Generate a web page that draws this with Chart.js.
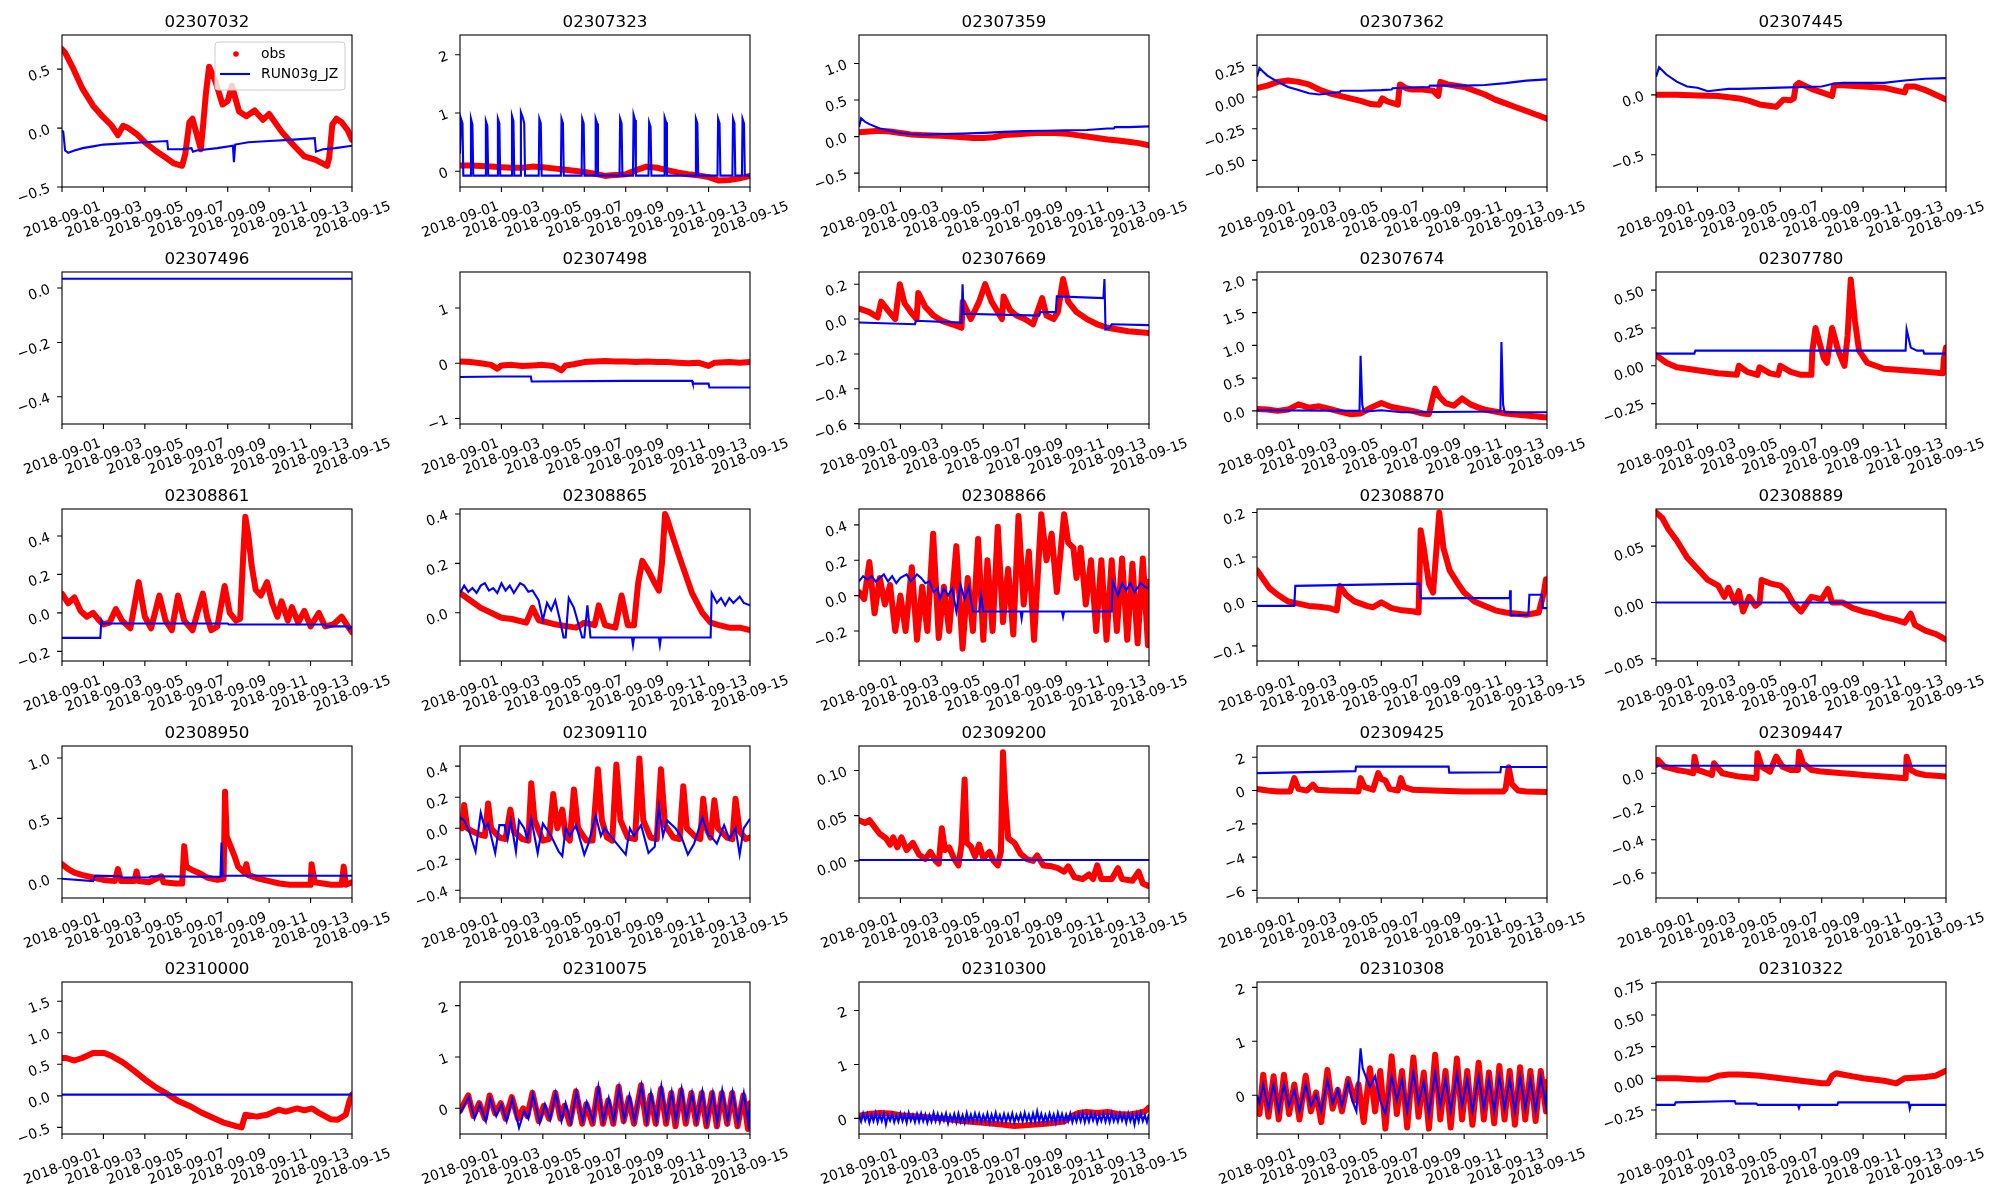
<!DOCTYPE html>
<html><head><meta charset="utf-8">
<script src="https://cdn.jsdelivr.net/npm/chart.js@4.4.1/dist/chart.umd.min.js"></script>
<style>
html,body{margin:0;padding:0;background:#fff;}
#wrap{position:relative;width:2000px;height:1200px;overflow:hidden;background:#fff;}
canvas{position:absolute;}
</style></head><body><div id="wrap"></div>
<script>
// ---------------- DATA ----------------
const STATIONS = ['02307032','02307323','02307359','02307362','02307445','02307496','02307498','02307669','02307674','02307780','02308861','02308865','02308866','02308870','02308889','02308950','02309110','02309200','02309425','02309447','02310000','02310075','02310300','02310308','02310322'];
const START_DATE = [2018, 8, 1]; // 2018-09-01
const X_TICK_DAYS = [0,2,4,6,8,10,12,14];
const Y_LIMITS = [
 [-0.5,0.79],[-0.27,2.34],[-0.69,1.39],[-0.71,0.49],[-0.77,0.50],
 [-0.50,0.059],[-1.10,1.65],[-0.602,0.27],[-0.20,2.12],[-0.385,0.62],
 [-0.25,0.54],[-0.195,0.42],[-0.37,0.49],[-0.134,0.208],[-0.052,0.083],
 [-0.16,1.10],[-0.45,0.53],[-0.041,0.127],[-6.46,2.68],[-0.75,0.164],
 [-0.605,1.805],[-0.5,2.46],[-0.29,2.53],[-0.72,2.1],[-0.44,0.76]];
const Y_TICKS = [
 [-0.5,0,0.5],[0,1,2],[-0.5,0,0.5,1.0],[-0.5,-0.25,0,0.25],[-0.5,0],
 [-0.4,-0.2,0],[-1,0,1],[-0.6,-0.4,-0.2,0,0.2],[0,0.5,1,1.5,2],[-0.25,0,0.25,0.5],
 [-0.2,0,0.2,0.4],[0,0.2,0.4],[-0.2,0,0.2,0.4],[-0.1,0,0.1,0.2],[-0.05,0,0.05],
 [0,0.5,1.0],[-0.4,-0.2,0,0.2,0.4],[0,0.05,0.1],[-6,-4,-2,0,2],[-0.6,-0.4,-0.2,0],
 [-0.5,0,0.5,1.0,1.5],[0,1,2],[0,1,2],[0,1,2],[-0.25,0,0.25,0.5,0.75]];

// series: [day since 2018-09-01, value]
const OBS_02307032 = [[0,0.67],[0.15,0.64],[0.5,0.52],[1.0,0.33],[1.5,0.19],[2.0,0.09],[2.4,0.02],[2.7,-0.06],[2.95,0.02],[3.2,0.0],[3.6,-0.05],[4.0,-0.12],[4.5,-0.19],[5.0,-0.25],[5.4,-0.3],[5.8,-0.32],[5.95,-0.22],[6.15,0.05],[6.3,0.08],[6.5,-0.05],[6.7,-0.18],[6.8,0.0],[6.95,0.3],[7.1,0.52],[7.4,0.4],[7.75,0.2],[8.0,0.23],[8.2,0.36],[8.55,0.14],[8.9,0.1],[9.3,0.15],[9.7,0.07],[10.0,0.12],[10.6,-0.03],[11.2,-0.15],[11.7,-0.24],[12.25,-0.27],[12.8,-0.32],[12.9,-0.25],[13.05,0.03],[13.25,0.08],[13.5,0.05],[13.8,-0.02],[14,-0.1]];
const MOD_02307032 = [[0,-0.02],[0.06,-0.03],[0.15,-0.19],[0.3,-0.21],[0.6,-0.19],[1.0,-0.17],[1.5,-0.155],[2.0,-0.14],[3.0,-0.13],[4.0,-0.12],[5.08,-0.11],[5.12,-0.18],[5.8,-0.18],[6.25,-0.17],[6.32,-0.2],[6.5,-0.19],[7.5,-0.17],[8.25,-0.15],[8.3,-0.29],[8.36,-0.14],[9.0,-0.12],[10.0,-0.11],[11.0,-0.1],[12.2,-0.085],[12.26,-0.2],[12.6,-0.18],[13.2,-0.17],[14,-0.15]];

const OBS_02307323 = [[0,0.1],[0.5,0.1],[1,0.09],[1.5,0.08],[2,0.07],[2.5,0.06],[3,0.06],[3.5,0.08],[4,0.07],[4.5,0.05],[5,0.03],[5.5,0.01],[6,-0.01],[6.5,-0.04],[7,-0.08],[7.3,-0.07],[7.7,-0.06],[8,-0.05],[8.5,0.02],[9,0.08],[9.5,0.06],[10,0.02],[10.5,-0.02],[11,-0.05],[11.5,-0.07],[12,-0.1],[12.5,-0.16],[13,-0.15],[13.5,-0.12],[14,-0.08]];
const MOD_02307323 = [[0,0.3],[0.05,0.9],[0.12,0.82],[0.16,-0.075],[0.5,-0.075],[0.53,0.9],[0.6,0.8],[0.64,-0.075],[1.22,-0.075],[1.25,0.86],[1.32,0.78],[1.36,-0.075],[1.8,-0.075],[1.83,0.9],[1.9,0.82],[1.94,-0.075],[2.48,-0.075],[2.51,0.95],[2.58,0.86],[2.62,-0.075],[2.91,-0.075],[2.94,1.01],[3.0,0.95],[3.05,0.9],[3.1,0.82],[3.14,-0.075],[3.8,-0.075],[3.83,0.9],[3.9,0.82],[3.94,-0.075],[4.87,-0.075],[4.9,0.9],[4.97,0.82],[5.01,-0.075],[5.87,-0.075],[5.9,0.9],[5.97,0.82],[6.01,-0.075],[6.52,-0.075],[6.55,0.9],[6.62,0.82],[6.66,-0.075],[7.7,-0.075],[7.73,0.9],[7.8,0.82],[7.84,-0.075],[8.35,-0.075],[8.38,0.97],[8.45,0.88],[8.49,-0.075],[9.1,-0.075],[9.13,0.84],[9.2,0.76],[9.24,-0.075],[9.85,-0.075],[9.88,0.92],[9.95,0.84],[9.99,-0.075],[11.36,-0.075],[11.39,0.9],[11.46,0.82],[11.5,-0.075],[12.43,-0.075],[12.46,0.9],[12.53,0.82],[12.57,-0.075],[13.15,-0.075],[13.18,0.9],[13.25,0.82],[13.29,-0.075],[13.61,-0.075],[13.64,0.9],[13.71,0.82],[13.75,-0.075],[14,-0.075]];

const OBS_02307359 = [[0,0.06],[0.5,0.07],[1,0.08],[1.5,0.07],[2,0.05],[2.5,0.03],[3,0.02],[3.5,0.015],[4,0.01],[4.5,0.0],[5,-0.01],[5.5,-0.02],[6,-0.02],[6.5,-0.01],[7,0.02],[7.5,0.03],[8,0.04],[8.5,0.05],[9,0.05],[9.5,0.05],[10,0.04],[10.5,0.02],[11,0.0],[11.5,-0.02],[12,-0.04],[12.5,-0.055],[13,-0.07],[13.5,-0.09],[14,-0.12]];
const MOD_02307359 = [[0,0.13],[0.1,0.25],[0.3,0.2],[0.5,0.17],[1,0.11],[1.5,0.08],[2,0.05],[2.5,0.035],[3,0.025],[3.5,0.03],[4,0.035],[5,0.04],[6,0.05],[7,0.065],[8,0.075],[9,0.08],[10,0.085],[11,0.09],[12,0.11],[12.3,0.11],[12.35,0.13],[13,0.13],[14,0.14]];

const OBS_02307362 = [[0,0.07],[0.5,0.09],[1,0.12],[1.5,0.13],[2,0.12],[2.5,0.1],[3,0.06],[3.5,0.03],[4,0.01],[4.5,-0.01],[5,-0.03],[5.5,-0.055],[5.9,-0.06],[6.05,-0.01],[6.3,-0.035],[6.6,-0.05],[6.8,-0.06],[6.85,0.03],[6.9,0.1],[7.2,0.07],[7.5,0.06],[8,0.06],[8.5,0.05],[8.75,0.01],[8.85,0.12],[9.2,0.1],[9.6,0.09],[10,0.08],[10.5,0.05],[11,0.02],[11.5,-0.02],[12,-0.05],[12.5,-0.08],[13,-0.11],[13.5,-0.14],[14,-0.17]];
const MOD_02307362 = [[0,0.16],[0.12,0.23],[0.3,0.2],[0.5,0.17],[1,0.12],[1.5,0.08],[2,0.055],[2.5,0.03],[3,0.02],[3.5,0.03],[4,0.04],[4.05,0.05],[5,0.05],[6,0.055],[6.5,0.06],[6.55,0.07],[7.5,0.075],[8.3,0.08],[8.35,0.09],[9,0.09],[10,0.09],[11,0.095],[12,0.11],[13,0.13],[14,0.14]];

const OBS_02307445 = [[0,0.0],[1,0.0],[2,-0.005],[3,-0.01],[4,-0.03],[4.5,-0.05],[5,-0.08],[5.8,-0.1],[6.15,-0.04],[6.5,-0.045],[6.65,-0.03],[6.75,0.08],[6.9,0.1],[7.5,0.05],[8,0.02],[8.5,-0.01],[8.6,0.08],[9,0.08],[10,0.07],[11,0.06],[11.5,0.04],[12,0.02],[12.1,0.07],[12.5,0.07],[13,0.04],[13.5,0.0],[14,-0.04]];
const MOD_02307445 = [[0,0.15],[0.15,0.23],[0.5,0.17],[1,0.11],[1.5,0.07],[2,0.06],[2.5,0.03],[3,0.04],[3.5,0.05],[4,0.05],[6,0.06],[8,0.07],[8.5,0.09],[9,0.1],[11,0.1],[12,0.12],[13,0.135],[14,0.14]];

const OBS_02307496 = [];
const MOD_02307496 = [[0,0.034],[14,0.034]];

const OBS_02307498 = [[0,0.03],[0.5,0.02],[1,0.0],[1.5,-0.03],[1.8,-0.1],[2.0,-0.04],[2.5,-0.03],[3,-0.05],[3.5,-0.04],[4,-0.03],[4.5,-0.05],[4.9,-0.13],[5.1,-0.04],[5.5,-0.02],[6,0.02],[6.5,0.03],[7,0.04],[7.5,0.03],[8,0.03],[8.5,0.02],[9,0.03],[9.5,0.02],[10,0.02],[10.5,0.01],[11,0.0],[11.5,0.01],[12,-0.05],[12.3,0.01],[13,0.02],[13.5,0.01],[14,0.02]];
const MOD_02307498 = [[0,-0.25],[2,-0.24],[3.42,-0.24],[3.46,-0.33],[8,-0.32],[11.2,-0.32],[11.24,-0.37],[12,-0.37],[12.04,-0.44],[14,-0.44]];

const OBS_02307669 = [[0,0.06],[0.5,0.04],[0.9,0.01],[1.07,0.1],[1.4,0.05],[1.75,0.0],[1.97,0.2],[2.2,0.09],[2.5,0.04],[2.78,0.0],[2.86,0.15],[3.2,0.07],[3.6,0.02],[4.0,-0.01],[4.5,-0.03],[4.95,-0.05],[5.01,0.1],[5.2,0.05],[5.4,0.0],[5.8,0.1],[6.09,0.2],[6.4,0.1],[6.7,0.04],[6.9,0.0],[6.98,0.13],[7.3,0.05],[7.6,0.02],[8.0,0.0],[8.4,-0.03],[8.84,0.12],[9.05,0.02],[9.4,0.0],[9.6,0.04],[9.85,0.23],[10.1,0.1],[10.5,0.04],[11,0.0],[11.5,-0.03],[12,-0.05],[12.5,-0.06],[13,-0.07],[14,-0.08]];
const MOD_02307669 = [[0,-0.02],[2.7,-0.03],[2.75,-0.01],[4.95,-0.02],[5.0,0.2],[5.05,0.03],[8.7,0.02],[8.75,0.04],[9.5,0.04],[9.55,0.13],[11.8,0.12],[11.85,0.23],[11.9,-0.06],[12.1,-0.05],[12.2,-0.03],[14,-0.035]];

const OBS_02307674 = [[0,0.03],[0.5,0.02],[1,0.0],[1.5,0.02],[2,0.1],[2.5,0.05],[3,0.07],[3.5,0.03],[4,-0.01],[4.5,-0.05],[5,-0.04],[5.5,0.05],[6,0.12],[6.5,0.06],[7,0.03],[7.5,0.0],[8,-0.04],[8.3,-0.05],[8.45,0.15],[8.6,0.34],[8.8,0.22],[9.1,0.12],[9.5,0.08],[9.9,0.19],[10.3,0.1],[10.7,0.05],[11,0.02],[12,-0.04],[13,-0.07],[14,-0.1]];
const MOD_02307674 = [[0,0.01],[4.95,0.0],[5.0,0.84],[5.08,0.1],[5.15,-0.01],[6,0.01],[7,-0.02],[11.75,-0.01],[11.8,1.05],[11.88,0.1],[11.95,-0.02],[14,-0.02]];

const OBS_02307780 = [[0,0.07],[0.5,0.02],[1,-0.01],[2,-0.03],[3,-0.05],[3.9,-0.06],[4.0,0.0],[4.4,-0.04],[4.9,-0.06],[5.0,-0.01],[5.5,-0.05],[5.9,-0.06],[6.0,0.0],[6.5,-0.04],[7.0,-0.06],[7.5,-0.06],[7.55,0.1],[7.7,0.25],[7.9,0.15],[8.1,0.05],[8.25,0.02],[8.5,0.25],[8.8,0.1],[9.0,0.03],[9.1,0.0],[9.25,0.2],[9.4,0.57],[9.6,0.3],[9.8,0.1],[10.2,0.02],[11,-0.02],[12,-0.03],[13,-0.04],[13.85,-0.05],[13.9,0.05],[14,0.12]];
const MOD_02307780 = [[0,0.08],[1.85,0.08],[1.9,0.1],[12.05,0.1],[12.1,0.24],[12.3,0.12],[12.6,0.1],[12.9,0.1],[12.95,0.08],[14,0.08]];

const OBS_02308861 = [[0,0.10],[0.3,0.05],[0.6,0.08],[0.9,0.01],[1.2,-0.02],[1.5,0.0],[1.8,-0.04],[2.0,-0.06],[2.3,-0.05],[2.6,0.02],[2.9,-0.04],[3.3,-0.08],[3.7,0.16],[4.0,-0.02],[4.3,-0.08],[4.7,0.09],[5.0,-0.04],[5.3,-0.09],[5.6,0.09],[5.9,-0.04],[6.3,-0.09],[6.8,0.10],[7.0,-0.02],[7.2,-0.09],[7.5,-0.07],[7.85,0.14],[8.1,0.0],[8.4,-0.04],[8.6,-0.03],[8.75,0.3],[8.85,0.5],[9.0,0.4],[9.15,0.25],[9.35,0.12],[9.6,0.09],[9.9,0.16],[10.15,0.05],[10.4,-0.02],[10.6,0.06],[10.9,-0.04],[11.1,0.03],[11.4,-0.05],[11.7,0.01],[12.0,-0.07],[12.4,0.0],[12.7,-0.07],[13.1,-0.06],[13.5,-0.02],[13.8,-0.07],[14,-0.1]];
const MOD_02308861 = [[0,-0.13],[1.85,-0.13],[1.9,-0.04],[1.95,-0.055],[8.0,-0.055],[8.05,-0.06],[12.7,-0.06],[12.75,-0.07],[13.8,-0.07],[13.85,-0.085],[14,-0.07]];

const OBS_02308865 = [[0,0.08],[0.5,0.05],[1,0.02],[1.5,0.0],[2,-0.02],[2.5,-0.025],[3.2,-0.04],[3.5,0.02],[3.8,-0.03],[4.5,-0.045],[5.2,-0.055],[5.6,-0.06],[6.0,-0.04],[6.5,-0.05],[6.7,0.03],[7.0,-0.05],[7.5,-0.06],[7.8,0.07],[8.1,-0.05],[8.4,-0.05],[8.6,0.12],[8.8,0.21],[9.1,0.17],[9.4,0.12],[9.6,0.09],[9.75,0.2],[9.9,0.4],[10.0,0.38],[10.3,0.3],[10.7,0.2],[11.2,0.08],[11.7,0.0],[12.1,-0.04],[12.5,-0.05],[13,-0.06],[13.5,-0.06],[14,-0.07]];
const MOD_02308865 = [[0,0.08],[0.2,0.11],[0.4,0.085],[0.6,0.1],[0.8,0.08],[1.0,0.11],[1.2,0.12],[1.4,0.09],[1.6,0.1],[1.8,0.08],[2.0,0.12],[2.2,0.09],[2.4,0.11],[2.6,0.08],[2.9,0.12],[3.1,0.11],[3.3,0.085],[3.5,0.09],[3.8,0.05],[4.0,-0.03],[4.2,0.04],[4.4,0.01],[4.6,0.05],[4.8,-0.02],[5.0,-0.1],[5.1,-0.1],[5.25,0.06],[5.5,0.02],[5.7,-0.04],[5.9,-0.1],[6.0,-0.1],[6.15,0.03],[6.3,-0.1],[8.3,-0.1],[8.35,-0.13],[8.4,-0.1],[9.6,-0.1],[9.65,-0.13],[9.7,-0.1],[12.1,-0.1],[12.15,0.08],[12.4,0.04],[12.6,0.06],[12.8,0.03],[13.0,0.06],[13.2,0.04],[13.5,0.065],[13.7,0.04],[14,0.03]];

const OBS_02308866 = [[0,0.02],[0.25,-0.02],[0.5,0.19],[0.75,-0.1],[1.0,0.1],[1.25,-0.05],[1.5,0.06],[1.75,-0.2],[2.0,0.0],[2.25,-0.2],[2.55,0.16],[2.8,-0.25],[3.05,0.05],[3.3,-0.2],[3.58,0.35],[3.85,-0.24],[4.1,0.05],[4.35,-0.2],[4.7,0.28],[5.0,-0.3],[5.25,0.1],[5.5,-0.2],[5.75,0.32],[6.0,-0.25],[6.2,0.2],[6.45,-0.2],[6.7,0.39],[6.95,-0.15],[7.2,0.15],[7.45,-0.22],[7.7,0.45],[7.95,-0.05],[8.2,0.25],[8.45,-0.25],[8.8,0.46],[9.05,0.2],[9.3,0.35],[9.55,0.02],[9.9,0.46],[10.1,0.3],[10.35,0.27],[10.5,0.1],[10.7,0.27],[10.95,-0.05],[11.2,0.2],[11.45,-0.2],[11.7,0.2],[11.95,-0.25],[12.2,0.2],[12.45,-0.2],[12.7,0.21],[12.95,-0.25],[13.2,0.18],[13.45,-0.27],[13.7,0.21],[13.95,-0.28],[14,0.08]];
const MOD_02308866 = [[0,0.08],[0.2,0.11],[0.4,0.09],[0.6,0.11],[0.8,0.08],[1.0,0.1],[1.2,0.12],[1.4,0.08],[1.6,0.11],[1.8,0.07],[2.0,0.1],[2.3,0.12],[2.5,0.08],[2.8,0.12],[3.0,0.1],[3.2,0.07],[3.4,0.08],[3.6,0.02],[3.8,0.04],[3.9,-0.02],[4.1,0.04],[4.3,0.0],[4.5,0.04],[4.7,-0.09],[4.9,0.06],[5.1,-0.02],[5.3,0.05],[5.5,-0.09],[5.8,-0.09],[5.9,0.0],[6.0,-0.09],[7.8,-0.09],[7.85,-0.13],[7.9,-0.09],[9.8,-0.09],[9.85,-0.12],[9.9,-0.09],[12.2,-0.09],[12.25,0.08],[12.5,0.0],[12.7,0.07],[12.9,0.03],[13.1,0.07],[13.3,0.02],[13.6,0.07],[13.8,0.05],[14,0.04]];

const OBS_02308870 = [[0,0.07],[0.3,0.05],[0.6,0.03],[1,0.015],[1.5,0.0],[2,-0.005],[2.5,-0.01],[3,-0.012],[3.5,-0.015],[3.85,-0.02],[4.0,0.035],[4.3,0.015],[4.7,0.0],[5,-0.005],[5.3,-0.01],[5.6,-0.013],[6.0,-0.002],[6.5,-0.015],[7,-0.02],[7.5,-0.022],[7.8,-0.025],[7.9,0.16],[8.05,0.12],[8.3,0.04],[8.5,0.02],[8.6,0.08],[8.8,0.2],[9.0,0.12],[9.3,0.07],[9.7,0.04],[10,0.02],[10.5,0.0],[11,-0.01],[11.5,-0.02],[12,-0.025],[13,-0.03],[13.6,-0.025],[13.85,0.02],[13.95,0.05],[14,0.03]];
const MOD_02308870 = [[0,-0.01],[1.8,-0.01],[1.85,0.035],[7.85,0.04],[7.9,0.007],[12.2,0.008],[12.22,0.025],[12.25,-0.032],[13.1,-0.03],[13.15,0.015],[13.75,0.015],[13.8,-0.015],[14,-0.015]];

const OBS_02308889 = [[0,0.08],[0.3,0.075],[0.6,0.065],[1,0.055],[1.5,0.04],[2,0.03],[2.5,0.02],[3,0.015],[3.3,0.005],[3.5,0.013],[3.8,0.0],[4.0,0.01],[4.2,-0.008],[4.5,0.005],[4.8,-0.003],[5.0,0.0],[5.1,0.02],[5.5,0.017],[6,0.015],[6.3,0.01],[6.6,0.0],[7,-0.008],[7.3,0.0],[7.5,0.005],[8,0.003],[8.3,0.012],[8.5,0.0],[9,0.0],[9.5,-0.005],[10,-0.008],[10.5,-0.01],[11,-0.013],[11.5,-0.015],[12,-0.018],[12.3,-0.01],[12.5,-0.02],[13,-0.025],[13.5,-0.028],[14,-0.033]];
const MOD_02308889 = [[0,0.0],[14,0.0]];

const OBS_02308950 = [[0,0.12],[0.3,0.08],[0.6,0.05],[1,0.03],[1.5,0.01],[2,-0.01],[2.55,-0.02],[2.7,0.08],[2.85,-0.02],[3.5,-0.02],[3.6,0.06],[3.7,-0.02],[4.2,-0.03],[4.8,0.02],[4.9,-0.03],[5.5,-0.04],[5.8,-0.04],[5.9,0.27],[6.0,0.1],[6.3,0.07],[6.7,0.04],[7,0.01],[7.5,-0.01],[7.8,0.0],[7.87,0.72],[7.95,0.35],[8.3,0.2],[8.5,0.1],[8.8,0.05],[8.9,0.12],[9.0,0.03],[9.5,0.0],[10,-0.02],[10.5,-0.04],[11,-0.05],[12,-0.05],[12.05,0.12],[12.2,-0.03],[13,-0.05],[13.5,-0.05],[13.6,0.1],[13.7,-0.05],[14,-0.03]];
const MOD_02308950 = [[0,0.0],[1.5,-0.02],[1.6,0.025],[2.8,0.02],[2.9,0.01],[4.2,0.01],[4.3,0.02],[7.65,0.015],[7.7,0.3],[7.75,0.025],[14,0.025]];

const OBS_02309110 = [[0,0.02],[0.1,0.0],[0.2,0.15],[0.35,0.0],[0.6,-0.02],[0.9,-0.04],[1.2,-0.05],[1.36,0.16],[1.5,0.0],[1.9,-0.06],[2.2,-0.07],[2.43,0.12],[2.6,-0.02],[3.0,-0.07],[3.3,-0.08],[3.44,0.29],[3.6,0.05],[4.0,-0.08],[4.3,-0.07],[4.5,0.22],[4.7,0.0],[4.94,0.12],[5.1,-0.05],[5.3,-0.08],[5.5,0.25],[5.7,0.0],[6.1,-0.08],[6.4,-0.08],[6.66,0.38],[6.85,0.05],[7.1,-0.06],[7.35,-0.08],[7.55,0.41],[7.75,0.05],[8.1,-0.06],[8.45,-0.07],[8.66,0.45],[8.85,0.05],[9.2,-0.06],[9.5,-0.07],[9.7,0.38],[9.9,0.02],[10.3,-0.06],[10.6,-0.07],[10.78,0.27],[10.95,0.0],[11.4,-0.06],[11.6,-0.07],[11.74,0.19],[11.9,0.0],[12.1,-0.06],[12.28,0.18],[12.45,0.0],[12.9,-0.06],[13.15,-0.07],[13.3,0.19],[13.5,-0.02],[13.8,-0.07],[14,-0.06]];
const MOD_02309110 = [[0,0.07],[0.2,0.05],[0.47,-0.03],[0.75,-0.15],[1.0,0.1],[1.2,0.0],[1.35,0.03],[1.5,-0.05],[1.7,-0.16],[1.9,0.02],[2.15,0.02],[2.3,-0.07],[2.45,0.05],[2.7,-0.15],[2.85,0.05],[3.1,0.0],[3.25,-0.07],[3.44,0.06],[3.75,-0.16],[4.0,0.03],[4.15,0.0],[4.4,-0.05],[4.76,-0.15],[4.94,-0.18],[5.1,0.0],[5.3,-0.05],[5.6,0.02],[6.0,-0.17],[6.2,-0.1],[6.55,0.08],[6.8,-0.05],[6.98,0.0],[7.45,-0.08],[8.0,-0.17],[8.2,0.0],[8.4,-0.05],[8.74,0.02],[9.1,-0.16],[9.4,-0.12],[9.6,0.14],[9.8,-0.05],[10.0,0.05],[10.4,0.0],[10.7,-0.06],[11.0,-0.17],[11.3,-0.1],[11.7,0.07],[12.0,-0.05],[12.1,-0.05],[12.4,-0.1],[12.75,0.02],[13.0,-0.07],[13.3,0.0],[13.5,-0.17],[13.7,0.0],[14,0.06]];

const OBS_02309200 = [[0,0.045],[0.3,0.042],[0.5,0.045],[0.8,0.036],[1.0,0.03],[1.3,0.025],[1.5,0.018],[1.65,0.026],[1.85,0.015],[2.05,0.026],[2.3,0.012],[2.6,0.02],[2.9,0.007],[3.2,0.002],[3.45,0.01],[3.7,0.0],[3.85,-0.003],[4.0,0.036],[4.15,0.012],[4.35,0.015],[4.6,0.002],[4.8,-0.005],[4.95,0.018],[5.1,0.09],[5.2,0.02],[5.4,0.016],[5.6,0.005],[5.8,0.018],[6.0,0.003],[6.3,0.01],[6.5,0.0],[6.7,-0.005],[6.85,0.01],[6.95,0.12],[7.05,0.07],[7.2,0.025],[7.5,0.02],[7.8,0.008],[8.1,0.002],[8.4,0.0],[8.6,0.006],[8.9,-0.005],[9.3,-0.006],[9.6,-0.008],[9.9,-0.012],[10.1,-0.006],[10.4,-0.018],[10.8,-0.02],[11.1,-0.015],[11.3,-0.02],[11.5,-0.005],[11.7,-0.02],[12.2,-0.02],[12.5,-0.008],[12.7,-0.02],[13.2,-0.022],[13.5,-0.012],[13.7,-0.025],[14,-0.028]];
const MOD_02309200 = [[0,0.001],[14,0.001]];

const OBS_02309425 = [[0,0.1],[0.5,0.0],[1.0,-0.05],[1.6,-0.05],[1.8,0.75],[2.0,0.1],[2.4,0.0],[2.7,0.35],[2.9,0.05],[3.5,0.0],[4.5,-0.03],[4.9,-0.05],[5.0,0.75],[5.2,0.2],[5.6,0.05],[5.85,1.05],[6.0,0.7],[6.2,0.6],[6.4,0.1],[6.8,0.0],[6.95,0.75],[7.1,0.2],[7.5,0.05],[8.5,0.0],[10,-0.05],[11,-0.05],[11.9,-0.05],[12.0,0.1],[12.15,1.4],[12.3,0.4],[12.6,0.0],[13,-0.05],[14,-0.08]];
const MOD_02309425 = [[0,1.05],[4.75,1.17],[4.78,1.44],[9.25,1.44],[9.28,1.08],[11.75,1.1],[11.78,1.42],[14,1.42]];

const OBS_02309447 = [[0,0.05],[0.1,0.08],[0.4,0.04],[1,0.02],[1.5,0.01],[1.8,0.0],[1.86,0.1],[2.0,0.02],[2.5,0.0],[2.7,-0.01],[2.8,0.06],[3.2,0.0],[4,-0.02],[4.85,-0.03],[4.9,0.12],[5.1,0.04],[5.5,0.01],[5.8,0.1],[6.1,0.04],[6.5,0.02],[6.85,0.02],[6.91,0.13],[7.1,0.06],[7.5,0.02],[8,0.01],[9,0.0],[9.5,-0.005],[10,-0.01],[11,-0.02],[12.05,-0.03],[12.1,0.1],[12.3,0.02],[12.6,0.0],[13,-0.01],[14,-0.02]];
const MOD_02309447 = [[0,0.045],[14,0.045]];

const OBS_02310000 = [[0,0.6],[0.2,0.6],[0.6,0.56],[0.97,0.6],[1.5,0.68],[2.04,0.68],[2.4,0.63],[2.94,0.53],[3.47,0.4],[4.0,0.26],[4.55,0.13],[5.08,0.03],[5.6,-0.08],[6.16,-0.16],[6.7,-0.26],[7.23,-0.34],[7.77,-0.42],[8.4,-0.48],[8.67,-0.5],[8.85,-0.3],[9.4,-0.33],[9.9,-0.3],[10.45,-0.22],[10.8,-0.25],[11.35,-0.2],[11.7,-0.23],[12.07,-0.2],[12.4,-0.27],[12.96,-0.37],[13.3,-0.38],[13.7,-0.3],[13.86,-0.1],[14,0.02]];
const MOD_02310000 = [[0,0.02],[14,0.02]];

const OBS_02310075 = [[0,-0.05],[0.4,0.25],[0.65,-0.15],[0.93,0.1],[1.2,-0.2],[1.43,0.25],[1.7,-0.1],[1.97,0.1],[2.2,-0.2],[2.5,0.22],[2.8,-0.2],[3.05,0.0],[3.25,-0.15],[3.5,0.3],[3.8,-0.25],[4.05,0.05],[4.3,-0.2],[4.6,0.3],[4.85,-0.2],[5.05,0.05],[5.3,-0.3],[5.6,0.33],[5.9,-0.3],[6.1,0.08],[6.4,-0.3],[6.66,0.38],[6.9,-0.3],[7.15,0.15],[7.4,-0.3],[7.66,0.42],[7.9,-0.25],[8.15,0.2],[8.4,-0.3],[8.74,0.45],[9.0,-0.3],[9.2,0.25],[9.45,-0.3],[9.7,0.38],[9.95,-0.3],[10.2,0.3],[10.4,-0.35],[10.67,0.35],[10.9,-0.3],[11.17,0.3],[11.4,-0.3],[11.67,0.3],[11.9,-0.35],[12.17,0.3],[12.4,-0.35],[12.64,0.3],[12.9,-0.3],[13.14,0.3],[13.4,-0.35],[13.68,0.25],[13.9,-0.4],[14,0.1]];
const MOD_02310075 = [[0,-0.1],[0.42,0.22],[0.7,-0.2],[0.95,0.08],[1.25,-0.25],[1.45,0.2],[1.75,-0.15],[2.0,0.08],[2.25,-0.25],[2.52,0.18],[2.85,-0.38],[3.1,-0.05],[3.3,-0.2],[3.52,0.28],[3.85,-0.28],[4.1,0.08],[4.35,-0.22],[4.62,0.3],[4.9,-0.25],[5.1,0.1],[5.35,-0.28],[5.62,0.32],[5.92,-0.25],[6.12,0.12],[6.42,-0.25],[6.68,0.42],[6.92,-0.25],[7.18,0.2],[7.42,-0.25],[7.68,0.4],[7.92,-0.22],[8.18,0.25],[8.42,-0.25],[8.76,0.45],[9.02,-0.25],[9.22,0.3],[9.48,-0.25],[9.72,0.43],[9.97,-0.22],[10.22,0.32],[10.42,-0.25],[10.7,0.38],[10.92,-0.22],[11.2,0.3],[11.42,-0.25],[11.7,0.33],[11.92,-0.28],[12.2,0.3],[12.42,-0.28],[12.66,0.35],[12.92,-0.25],[13.16,0.32],[13.42,-0.28],[13.7,0.3],[13.92,-0.3],[14,0.12]];

const OBS_02310300 = [[0,0.05],[0.5,0.08],[1,0.1],[1.5,0.09],[2,0.06],[3,0.03],[4,0.0],[5,-0.05],[6,-0.08],[7,-0.12],[7.5,-0.14],[8,-0.13],[9,-0.1],[9.9,-0.06],[10.3,0.05],[10.6,0.1],[11,0.12],[11.5,0.1],[12,0.12],[12.5,0.08],[13,0.07],[13.5,0.1],[13.8,0.13],[14,0.2]];
// model at 0.1-day steps from 2018-09-01
const MOD_02310300_STEP = 0.1;
const MOD_02310300_V = [
 0.05,-0.06,0.09,-0.04,0.08,-0.08,0.06,-0.05,0.10,-0.07,
 0.07,-0.05,0.09,-0.11,0.06,-0.04,0.08,-0.07,0.05,-0.06,
 0.09,-0.05,0.07,-0.08,0.10,-0.04,0.06,-0.07,0.08,-0.06,
 0.09,-0.05,0.07,-0.08,0.06,-0.06,0.10,-0.05,0.08,-0.07,
 0.07,-0.04,0.09,-0.09,0.06,-0.05,0.08,-0.07,0.09,-0.06,
 0.06,-0.08,0.10,-0.05,0.07,-0.06,0.09,-0.04,0.08,-0.07,
 0.06,-0.05,0.09,-0.08,0.07,-0.06,0.10,-0.05,0.06,-0.07,
 0.08,-0.06,0.07,-0.05,0.09,-0.08,0.06,-0.04,0.08,-0.06,
 0.10,-0.05,0.07,-0.07,0.09,-0.06,0.13,-0.05,0.08,-0.07,
 0.06,-0.06,0.09,-0.05,0.07,-0.08,0.10,-0.04,0.08,-0.06,
 0.07,-0.05,0.09,-0.07,0.06,-0.06,0.08,-0.05,0.10,-0.07,
 0.07,-0.06,0.09,-0.04,0.08,-0.08,0.06,-0.05,0.09,-0.06,
 0.08,-0.07,0.10,-0.05,0.06,-0.06,0.09,-0.04,0.07,-0.08,
 0.09,-0.05,0.07,-0.11,0.08,-0.06,0.10,-0.05,0.06,-0.07,
 0.08];
const MOD_02310300 = MOD_02310300_V.map((v,i)=>[i*MOD_02310300_STEP, v]);

const OBS_02310308 = [[0,-0.1],[0.12,-0.35],[0.3,0.38],[0.55,-0.4],[0.8,0.35],[1.05,-0.45],[1.3,0.38],[1.55,-0.35],[1.8,0.2],[2.05,-0.45],[2.35,0.36],[2.6,-0.3],[2.85,0.05],[3.1,-0.5],[3.4,0.47],[3.65,-0.25],[3.9,0.1],[4.1,-0.3],[4.4,0.3],[4.7,-0.1],[4.9,0.2],[5.15,-0.5],[5.45,0.5],[5.7,-0.3],[5.95,0.45],[6.2,-0.62],[6.5,0.72],[6.75,-0.35],[7.0,0.45],[7.25,-0.6],[7.55,0.7],[7.8,-0.4],[8.05,0.42],[8.3,-0.62],[8.6,0.75],[8.85,-0.45],[9.1,0.45],[9.35,-0.6],[9.65,0.68],[9.9,-0.45],[10.15,0.45],[10.4,-0.55],[10.7,0.6],[10.95,-0.45],[11.2,0.42],[11.45,-0.52],[11.7,0.54],[11.95,-0.45],[12.2,0.45],[12.45,-0.55],[12.7,0.52],[12.95,-0.45],[13.2,0.45],[13.45,-0.48],[13.7,0.45],[13.95,-0.3],[14,0.25]];
const MOD_02310308 = [[0,0.0],[0.12,-0.15],[0.3,0.2],[0.55,-0.25],[0.8,0.2],[1.05,-0.3],[1.3,0.2],[1.55,-0.2],[1.8,0.1],[2.05,-0.3],[2.35,0.2],[2.6,-0.2],[2.85,0.0],[3.1,-0.3],[3.4,0.28],[3.65,-0.15],[3.9,0.1],[4.1,-0.2],[4.4,0.25],[4.6,-0.1],[4.8,-0.3],[5.0,0.87],[5.1,0.5],[5.3,0.3],[5.45,0.15],[5.7,0.35],[5.95,-0.1],[6.2,-0.35],[6.5,0.35],[6.75,-0.1],[7.0,0.3],[7.25,-0.3],[7.55,0.42],[7.8,-0.15],[8.05,0.25],[8.3,-0.35],[8.6,0.42],[8.85,-0.2],[9.1,0.3],[9.35,-0.3],[9.65,0.4],[9.9,-0.2],[10.15,0.3],[10.4,-0.3],[10.7,0.35],[10.95,-0.25],[11.2,0.3],[11.45,-0.3],[11.7,0.35],[11.95,-0.25],[12.2,0.3],[12.45,-0.3],[12.7,0.35],[12.95,-0.25],[13.2,0.3],[13.45,-0.3],[13.7,0.35],[13.95,-0.2],[14,0.15]];

const OBS_02310322 = [[0,0.0],[1,0.0],[2,-0.01],[2.5,-0.01],[3,0.02],[3.5,0.03],[4,0.03],[4.5,0.025],[5,0.02],[5.5,0.01],[6,0.0],[6.5,-0.01],[7,-0.02],[7.5,-0.03],[8,-0.04],[8.3,-0.04],[8.5,0.02],[8.7,0.04],[9,0.03],[9.5,0.015],[10,0.0],[10.5,-0.01],[11,-0.02],[11.6,-0.04],[12,0.0],[12.5,0.005],[13,0.01],[13.5,0.02],[14,0.06]];
const MOD_02310322 = [[0,-0.21],[0.9,-0.21],[0.95,-0.19],[3.8,-0.18],[3.85,-0.2],[4.85,-0.2],[4.9,-0.21],[6.85,-0.21],[6.9,-0.235],[6.95,-0.21],[8.75,-0.21],[8.8,-0.19],[12.2,-0.19],[12.25,-0.24],[12.3,-0.21],[14,-0.21]];

const OBS_SERIES = [OBS_02307032,OBS_02307323,OBS_02307359,OBS_02307362,OBS_02307445,OBS_02307496,OBS_02307498,OBS_02307669,OBS_02307674,OBS_02307780,OBS_02308861,OBS_02308865,OBS_02308866,OBS_02308870,OBS_02308889,OBS_02308950,OBS_02309110,OBS_02309200,OBS_02309425,OBS_02309447,OBS_02310000,OBS_02310075,OBS_02310300,OBS_02310308,OBS_02310322];
const MOD_SERIES = [MOD_02307032,MOD_02307323,MOD_02307359,MOD_02307362,MOD_02307445,MOD_02307496,MOD_02307498,MOD_02307669,MOD_02307674,MOD_02307780,MOD_02308861,MOD_02308865,MOD_02308866,MOD_02308870,MOD_02308889,MOD_02308950,MOD_02309110,MOD_02309200,MOD_02309425,MOD_02309447,MOD_02310000,MOD_02310075,MOD_02310300,MOD_02310308,MOD_02310322];
const LEGEND_LABELS = ['obs','RUN03g_JZ'];

// ---------------- LAYOUT / STYLE ----------------
const AX_LEFT = [61.5,460,858.5,1257,1656];
const AX_TOP = [35,272.3,509.3,746,982.3];
const AX_W = 290, AX_H = 152;
const PAD_L = 80, PAD_R = 60, PAD_T = 36, PAD_B = 60;
const FONT = '"DejaVu Sans", "Liberation Sans", sans-serif';
const TICK_PX = 13.9, TITLE_PX = 16.7, LEGEND_PX = 13.9;
const ROT = 20*Math.PI/180;

function dayLabel(d){
  const dt = new Date(Date.UTC(START_DATE[0], START_DATE[1], START_DATE[2] + d));
  return dt.toISOString().slice(0,10);
}
function decimalsOf(ticks){
  let m = 0;
  ticks.forEach(t=>{ const s = String(t); const p = s.indexOf('.'); if(p>=0) m = Math.max(m, s.length-p-1); });
  return m;
}
function fmtY(v, dec){
  const s = Math.abs(v).toFixed(dec);
  return (v < 0 ? '\u2212' : '') + s;
}
function drawInk(ctx, txt, cx, cy, w, h){
  ctx.save();
  ctx.translate(cx, cy);
  ctx.rotate(-ROT);
  ctx.textAlign = 'left';
  ctx.textBaseline = 'alphabetic';
  ctx.fillText(txt, -w/2, h/2);
  ctx.restore();
}

function makePlugin(idx){
  return {
    id: 'mplAxes',
    afterDraw(chart){
      const ctx = chart.ctx, a = chart.chartArea;
      const xs = chart.scales.x, ys = chart.scales.y;
      ctx.save();
      // frame
      ctx.strokeStyle = '#000';
      ctx.lineWidth = 1.1;
      ctx.strokeRect(a.left, a.top, a.right - a.left, a.bottom - a.top);
      // tick marks
      ctx.beginPath();
      X_TICK_DAYS.forEach(d=>{ const px = xs.getPixelForValue(d); ctx.moveTo(px, a.bottom); ctx.lineTo(px, a.bottom + 4.9); });
      Y_TICKS[idx].forEach(v=>{ const py = ys.getPixelForValue(v); ctx.moveTo(a.left, py); ctx.lineTo(a.left - 4.9, py); });
      ctx.stroke();
      // tick labels
      ctx.fillStyle = '#000';
      ctx.font = TICK_PX + 'px ' + FONT;
      const s = Math.sin(ROT), c = Math.cos(ROT), hInk = TICK_PX*0.73;
      X_TICK_DAYS.forEach(d=>{
        const txt = dayLabel(d);
        const w = ctx.measureText(txt).width;
        const H = w*s + hInk*c;
        drawInk(ctx, txt, xs.getPixelForValue(d), a.bottom + 13 + H/2, w, hInk);
      });
      const dec = decimalsOf(Y_TICKS[idx]);
      Y_TICKS[idx].forEach(v=>{
        const txt = fmtY(v, dec);
        const w = ctx.measureText(txt).width;
        const W = w*c + hInk*s;
        const py = ys.getPixelForValue(v);
        drawInk(ctx, txt, a.left - 11 - W/2, py + 0.5*w*s, w, hInk);
      });
      // title
      ctx.font = TITLE_PX + 'px ' + FONT;
      ctx.textAlign = 'center';
      ctx.textBaseline = 'alphabetic';
      ctx.fillText(STATIONS[idx], (a.left + a.right)/2, a.top - 8.3);
      // legend (first subplot only)
      if (idx === 0){
        const bw = 130, bh = 48;
        const bx = a.right - 7 - bw, by = a.top + 7;
        ctx.beginPath();
        const r = 3;
        ctx.moveTo(bx + r, by);
        ctx.arcTo(bx + bw, by, bx + bw, by + bh, r);
        ctx.arcTo(bx + bw, by + bh, bx, by + bh, r);
        ctx.arcTo(bx, by + bh, bx, by, r);
        ctx.arcTo(bx, by, bx + bw, by, r);
        ctx.closePath();
        ctx.fillStyle = 'rgba(255,255,255,0.8)';
        ctx.fill();
        ctx.strokeStyle = '#cccccc';
        ctx.lineWidth = 1;
        ctx.stroke();
        // obs marker
        ctx.fillStyle = '#ff0000';
        ctx.beginPath(); ctx.arc(bx + 21, by + 12, 2.8, 0, Math.PI*2); ctx.fill();
        // model line
        ctx.strokeStyle = '#0000ff'; ctx.lineWidth = 2.1;
        ctx.beginPath(); ctx.moveTo(bx + 5, by + 32); ctx.lineTo(bx + 35, by + 32); ctx.stroke();
        ctx.fillStyle = '#000';
        ctx.font = LEGEND_PX + 'px ' + FONT;
        ctx.textAlign = 'left';
        ctx.textBaseline = 'middle';
        ctx.fillText(LEGEND_LABELS[0], bx + 46, by + 12);
        ctx.fillText(LEGEND_LABELS[1], bx + 46, by + 32);
      }
      ctx.restore();
    }
  };
}

const toXY = arr => arr.map(p=>({x:p[0], y:p[1]}));
const wrap = document.getElementById('wrap');

STATIONS.forEach((name, i)=>{
  const r = Math.floor(i/5), c = i % 5;
  const cv = document.createElement('canvas');
  const W = PAD_L + AX_W + PAD_R, H = PAD_T + AX_H + PAD_B;
  cv.width = W; cv.height = H;
  cv.style.width = W + 'px'; cv.style.height = H + 'px';
  cv.style.left = (Math.round(AX_LEFT[c]) - PAD_L) + 'px';
  cv.style.top = (Math.round(AX_TOP[r]) - PAD_T) + 'px';
  wrap.appendChild(cv);
  const datasets = [];
  if (OBS_SERIES[i].length){
    datasets.push({label: LEGEND_LABELS[0], data: toXY(OBS_SERIES[i]), showLine: true,
      borderColor: '#ff0000', backgroundColor: '#ff0000', borderWidth: 6,
      borderCapStyle: 'round', borderJoinStyle: 'round', pointRadius: 0, order: 2, clip: 0});
  }
  datasets.push({label: LEGEND_LABELS[1], data: toXY(MOD_SERIES[i]), showLine: true,
    borderColor: '#0000ff', backgroundColor: '#0000ff', borderWidth: 2.1,
    borderJoinStyle: 'miter', pointRadius: 0, order: 1, clip: 0});
  new Chart(cv, {
    type: 'scatter',
    data: {datasets},
    options: {
      responsive: false, animation: false, devicePixelRatio: 1, events: [],
      layout: {padding: {left: PAD_L, right: PAD_R, top: PAD_T, bottom: PAD_B}},
      plugins: {legend: {display: false}, title: {display: false}, tooltip: {enabled: false}},
      elements: {line: {tension: 0}, point: {radius: 0}},
      scales: {
        x: {type: 'linear', display: false, min: 0, max: 14},
        y: {type: 'linear', display: false, min: Y_LIMITS[i][0], max: Y_LIMITS[i][1]}
      }
    },
    plugins: [makePlugin(i)]
  });
});
</script></body></html>
